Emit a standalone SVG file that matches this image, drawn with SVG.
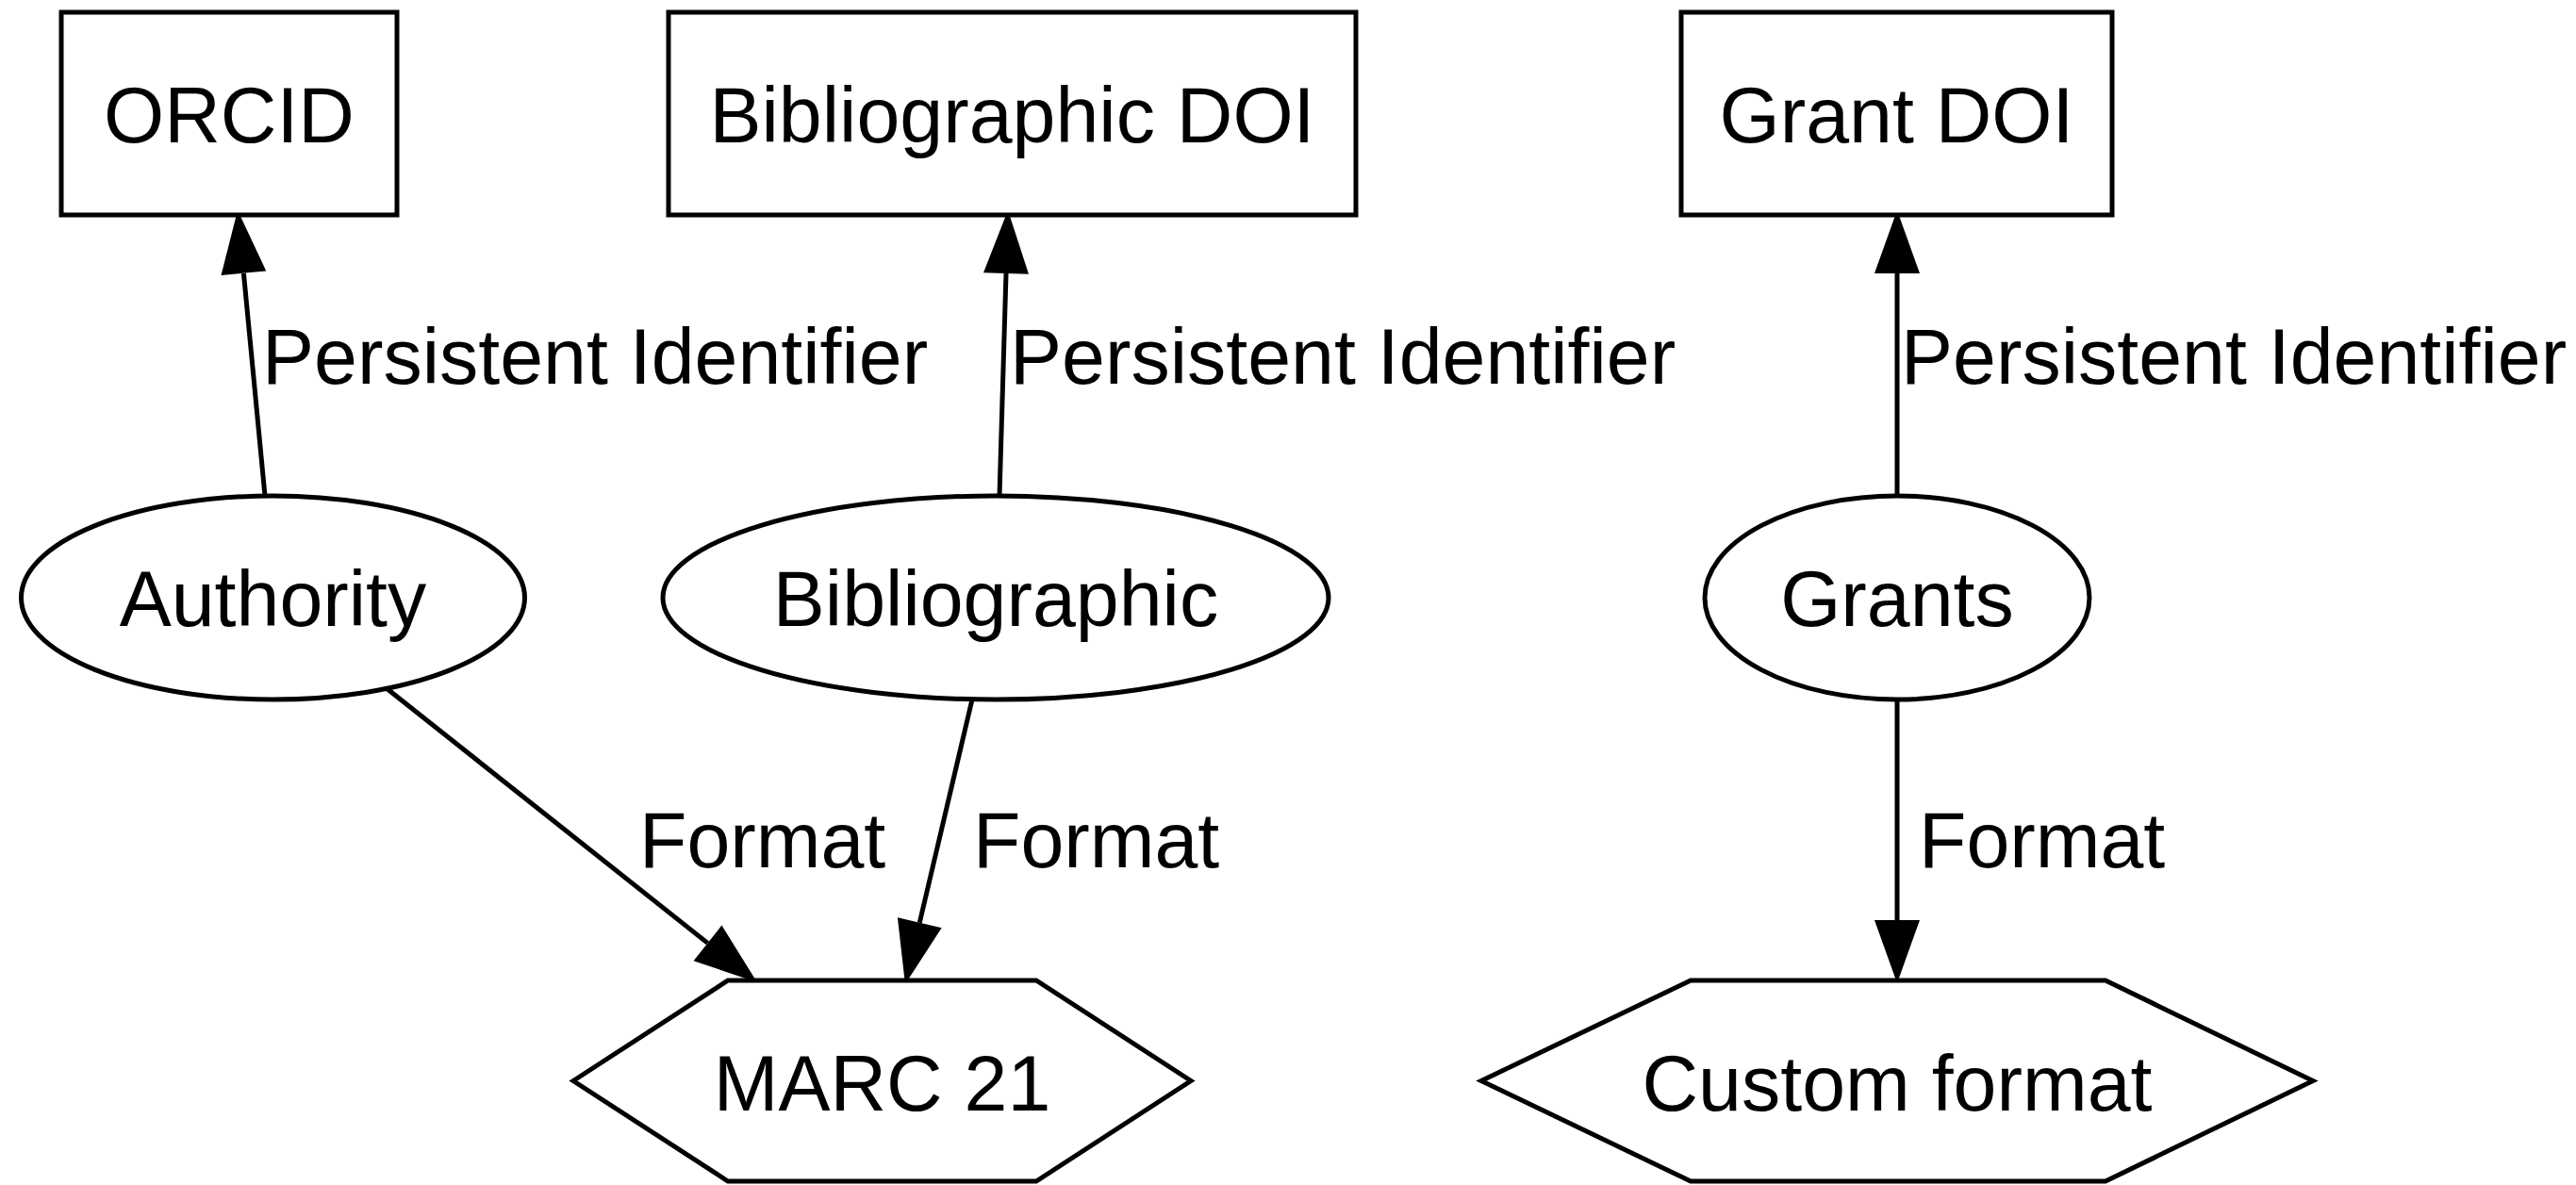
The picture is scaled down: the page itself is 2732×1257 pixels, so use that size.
<svg xmlns="http://www.w3.org/2000/svg" width="2732" height="1257" viewBox="0 0 2732 1257">
  <style>
    .shape { fill: #ffffff; stroke: #000000; stroke-width: 5; }
    .edge { fill: none; stroke: #000000; stroke-width: 5; }
    text { font-family: "Liberation Sans", Arial, Helvetica, sans-serif; font-size: 82.5px; fill: #000000; }
    .c { text-anchor: middle; }
  </style>
  <defs>
    <marker id="arrow" markerUnits="userSpaceOnUse" markerWidth="67" markerHeight="48" refX="0" refY="0" orient="auto" viewBox="0 -24 67 48" overflow="visible">
      <path d="M0,-24 L67,0 L0,24 z" fill="#000000"/>
    </marker>
  </defs>
  <rect width="2732" height="1257" fill="#ffffff"/>

  <!-- connectors (each line stops at the base of its arrowhead) -->
  <g id="edges">
    <path class="edge" d="M281,526 L258.4,289.7" marker-end="url(#arrow)"/>
    <path class="edge" d="M1060,526 L1067,290" marker-end="url(#arrow)"/>
    <path class="edge" d="M2012,526 L2012,290" marker-end="url(#arrow)"/>
    <path class="edge" d="M411,731 L750.5,1000.4" marker-end="url(#arrow)"/>
    <path class="edge" d="M1031,742 L975.3,978.8" marker-end="url(#arrow)"/>
    <path class="edge" d="M2012,742 L2012,976" marker-end="url(#arrow)"/>
    <text x="278" y="407">Persistent Identifier</text>
    <text x="1071" y="407">Persistent Identifier</text>
    <text x="2016" y="407">Persistent Identifier</text>
    <text x="678" y="920">Format</text>
    <text x="1032" y="920">Format</text>
    <text x="2035" y="920">Format</text>
  </g>

  <!-- identifiers -->
  <g id="orcid">
    <rect class="shape" x="65" y="13" width="356" height="215"/>
    <text class="c" x="243" y="151">ORCID</text>
  </g>
  <g id="bibliographic-doi">
    <rect class="shape" x="709" y="13" width="729" height="215"/>
    <text class="c" x="1073.5" y="151">Bibliographic DOI</text>
  </g>
  <g id="grant-doi">
    <rect class="shape" x="1783" y="13" width="457" height="215"/>
    <text class="c" x="2011.5" y="151">Grant DOI</text>
  </g>

  <!-- record types -->
  <g id="authority">
    <ellipse class="shape" cx="289.5" cy="634" rx="267" ry="108"/>
    <text class="c" x="289.5" y="664">Authority</text>
  </g>
  <g id="bibliographic">
    <ellipse class="shape" cx="1056" cy="634" rx="353" ry="108"/>
    <text class="c" x="1056" y="664">Bibliographic</text>
  </g>
  <g id="grants">
    <ellipse class="shape" cx="2012" cy="634" rx="204" ry="108"/>
    <text class="c" x="2012" y="664">Grants</text>
  </g>

  <!-- formats -->
  <g id="marc21">
    <polygon class="shape" points="608,1146.5 772,1040 1099,1040 1263,1146.5 1099,1253 772,1253"/>
    <text class="c" x="935.5" y="1178">MARC 21</text>
  </g>
  <g id="custom-format">
    <polygon class="shape" points="1571,1146.5 1793,1040 2233,1040 2453,1146.5 2233,1253 1793,1253"/>
    <text class="c" x="2012" y="1178">Custom format</text>
  </g>
</svg>
